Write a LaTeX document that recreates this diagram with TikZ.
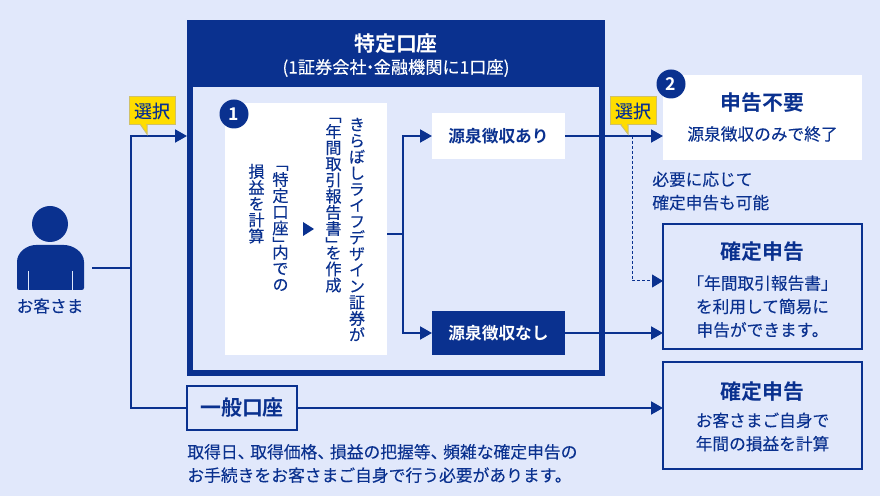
\documentclass[tikz,border=0pt]{standalone}
\usepackage{fontspec}
\usetikzlibrary{arrows.meta}
\setmainfont[FakeBold=0.12,BoldFont={Noto Sans CJK JP Bold},BoldFeatures={FakeBold=0}]{Noto Sans CJK JP}
\newfontfamily\vertjp[FakeBold=0.12,RawFeature={vertical;+vert}]{Noto Sans CJK JP}
\definecolor{navy}{HTML}{0A318F}
\definecolor{paleblue}{HTML}{E1E8FB}
\definecolor{signy}{HTML}{FFDD00}
\definecolor{signb}{HTML}{CFC06A}
\newcommand{\px}{0.02cm}
\newcommand{\vtext}[1]{{\vertjp\fontsize{9.2pt}{11pt}\selectfont #1}}
\newcommand{\tk}{、\kern-.25em}
\tikzset{
  x=0.02cm,y=-0.02cm,
  link/.style={draw=navy,line width=2*\px},
  arrowlink/.style={link,-{Triangle[length=12*\px,width=13*\px]}},
  whitebox/.style={fill=white,minimum width=#1*\px,inner sep=0pt,outer sep=0pt},
  framebox/.style={draw=navy,line width=2*\px,minimum width=#1*\px,inner sep=0pt,outer sep=0pt},
  label/.style={text=navy,font=\fontsize{9.5pt}{13.3pt}\selectfont,align=center,inner sep=0pt},
  boldlabel/.style={text=navy,font=\fontsize{11.9pt}{13pt}\selectfont\bfseries,align=center,inner sep=0pt},
  badge/.style={circle,fill=navy,text=white,minimum size=29*\px,inner sep=0pt,font=\fontsize{10pt}{10pt}\selectfont\bfseries},
  select/.style={fill=signy,draw=signb,line width=1*\px,text=navy,minimum width=46*\px,minimum height=28*\px,inner sep=0pt,font=\fontsize{10.2pt}{10pt}\selectfont},
  vlabel/.style={text=navy,rotate=-90,anchor=west,inner sep=0pt,text height=4pt,text depth=0pt},
}
\begin{document}
\begin{tikzpicture}

%% background
\fill[paleblue] (0,0) rectangle (880,496);
\useasboundingbox (0,0) rectangle (880,496);

%% customer
\fill[navy] (50,224) circle (18);
\fill[navy,rounded corners=1.2] (17,290) -- (17,264) .. controls (17,252) and (27,245) .. (38,245) -- (62,245) .. controls (73,245) and (84,252) .. (84,264) -- (84,290) -- cycle;
\draw[paleblue,line width=1*\px] (28,271) -- (28,290);
\draw[paleblue,line width=1*\px] (72.5,271) -- (72.5,290);
\node[label] (customer) at (50,306) {お客さま};

%% accounts
\node[draw=navy,line width=6*\px,minimum width=412*\px,minimum height=350*\px,inner sep=0pt,outer sep=0pt] (tokutei) at (396,198) {};
\node[fill=navy,minimum width=418*\px,minimum height=67*\px,inner sep=0pt,outer sep=0pt] (header) at (396,53.5) {};
\node[text=white,font=\fontsize{11.9pt}{13pt}\selectfont\bfseries] (headtitle) at (396,43.5) {特定口座};
\node[text=white,font=\fontsize{9.8pt}{13pt}\selectfont] (headsub) at (396,68) {(1証券会社\kern-.3em・\kern-.3em金融機関に1口座)};

%% step 1 panel
\node[whitebox=162,minimum height=252*\px] (panel) at (306,229) {};
\node[badge] (one) at (234,114) {1};
\node[vlabel] (kirabosi) at (360.5,116) {\vtext{きらぼしライフデザイン証券が}};
\node[vlabel] (nenkan) at (337,115) {\vtext{\kern-.5em「年間取引報告書」\kern-.5em を作成}};
\node[vlabel] (tokuteiuti) at (284,163) {\vtext{\kern-.5em「特定口座」\kern-.5em 内での}};
\node[vlabel] (soneki) at (260,163) {\vtext{損益を計算}};
\fill[navy] (303,222) -- (314,229) -- (303,236) -- cycle;

%% withholding boxes
\node[whitebox=133,minimum height=46*\px,label] (ari) at (498.5,136) {\bfseries 源泉徴収あり};
\node[fill=navy,minimum width=133*\px,minimum height=44*\px,inner sep=0pt,outer sep=0pt,text=white,font=\fontsize{9.5pt}{13pt}\selectfont\bfseries] (nasi) at (498.5,333) {源泉徴収なし};
\coordinate (branch) at (403,234);

%% results
\node[whitebox=199,minimum height=85*\px] (fuyou) at (762.5,117.5) {};
\node[boldlabel] (fuyoutitle) at (762.5,103) {申告不要};
\node[label] (fuyoutext) at (762.5,134) {源泉徴収のみで終了};
\node[badge] (two) at (671,84) {2};

\node[framebox=199,minimum height=125*\px] (kakutei) at (762.5,286.5) {};
\node[boldlabel] (kakuteititle) at (762.5,252) {確定申告};
\node[label] (kakuteitext) at (762.5,306.5) {「年間取引報告書」\\を利用して簡易に\\申告ができます。};

\node[framebox=199,minimum height=107*\px] (kakutei2) at (762.5,415.5) {};
\node[boldlabel] (kakutei2title) at (762.5,392) {確定申告};
\node[label] (kakutei2text) at (762.5,432) {お客さまご自身で\\年間の損益を計算};

\node[label,align=left,anchor=west] (hituyou) at (652,191) {必要に応じて\\確定申告も可能};

%% general account
\node[framebox=110,minimum height=44*\px,font=\fontsize{11.9pt}{13pt}\selectfont\bfseries,text=navy] (ippan) at (242,408) {一般口座};
\node[label,align=left,anchor=west,font=\fontsize{9.55pt}{13.3pt}\selectfont] (ippantext) at (187,463.5) {取得日\tk 取得価格\tk 損益の把握等\tk 頻雑な確定申告の\\お手続きをお客さまご自身で行う必要があります。};

%% edges
\coordinate (out) at (92,268);
\coordinate (fork) at (131,268);
\draw[link] (out) -- (fork);
\draw[arrowlink] (fork) |- (187,136);
\draw[link] (fork) |- (ippan.west);
\draw[link] (panel.east |- branch) -- (branch);
\draw[arrowlink] (branch) |- (ari.west);
\draw[arrowlink] (branch) |- (nasi.west);
\draw[arrowlink] (ari.east) -- (fuyou.west |- ari.east);
\draw[arrowlink] (nasi.east) -- (kakutei.west |- nasi.east);
\draw[arrowlink] (ippan.east) -- (kakutei2.west |- ippan.east);
\coordinate (dashstart) at (632,136);
\draw[draw=navy,line width=1*\px,dash pattern=on 3*\px off 2*\px,-{Triangle[length=11*\px,width=13*\px]}] (dashstart) |- (kakutei.west |- 0,281);

%% select signs
\fill[signy,draw=signb,line width=1*\px] (140,124) -- (147,134) -- (147,124) -- cycle;
\node[select] (select1) at (152,111) {選択};
\fill[signy,draw=signb,line width=1*\px] (621,125) -- (628,134) -- (628,125) -- cycle;
\node[select] (select2) at (633,111) {選択};
\fill[signy] (141,123) rectangle (146,125.5);
\fill[signy] (622,124) rectangle (627,126.5);

\end{tikzpicture}
\end{document}
